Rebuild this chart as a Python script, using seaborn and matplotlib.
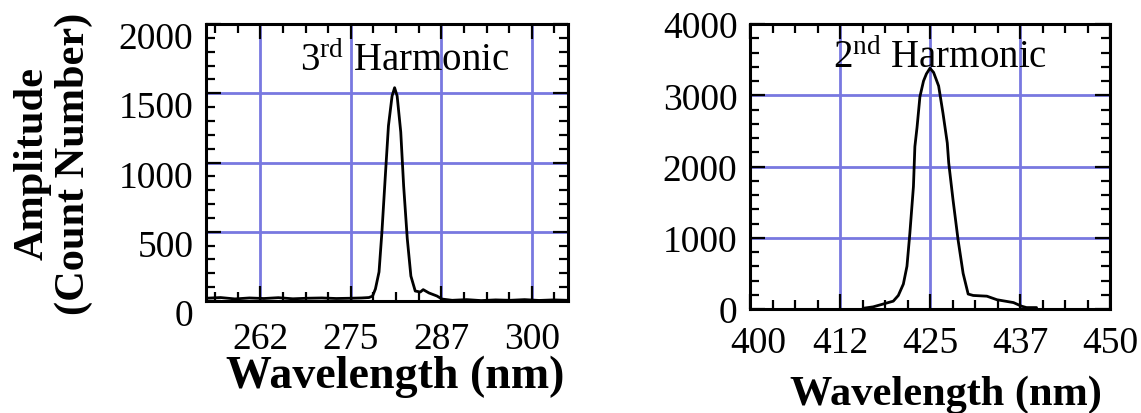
import numpy as np
import pandas as pd
import seaborn as sns
import matplotlib
matplotlib.use("Agg")
import matplotlib.pyplot as plt
from matplotlib.ticker import FixedLocator, FixedFormatter, MultipleLocator
from matplotlib.transforms import ScaledTranslation

# 3rd harmonic spectrum
wl_3rd = [255, 257, 259, 261, 263, 265, 267, 269, 271, 273, 275, 276.5, 277.5,
          278.0, 278.4, 278.9, 279.3, 279.8, 280.2, 280.7, 281.05, 281.4, 281.9,
          282.3, 282.8, 283.3, 283.9, 284.6, 285.0, 285.8, 286.9, 287.6, 289,
          291, 293, 295, 297, 299, 301, 303, 305]
amp_3rd = [20, 25, 15, 22, 18, 24, 16, 20, 22, 18, 20, 22, 25,
           35, 87, 210, 500, 930, 1265, 1480, 1540, 1480, 1220,
           830, 450, 180, 72, 65, 82, 58, 36, 14, 5,
           10, 3, 8, 5, 10, 4, 8, 5]

# 2nd harmonic spectrum
wl_2nd = [415.7, 417.1, 418.5, 419.9, 420.6, 421.3, 421.8, 422.2, 422.7, 422.9,
          423.2, 423.6, 424.1, 424.5, 425.0, 425.5, 426.2, 426.8, 427.4, 427.6,
          428.2, 428.9, 429.6, 430.3, 431.0, 432.9, 434.3, 436.6, 437.7, 438.4,
          439.8]
amp_2nd = [10, 30, 70, 110, 190, 350, 600, 1060, 1720, 2280,
           2550, 2980, 3200, 3300, 3380, 3320, 3130, 2750, 2330, 2050,
           1530, 970, 500, 210, 190, 180, 130, 90, 40, 20,
           20]

x_ticks_3rd = [262.5, 275, 287.5, 300]
x_labels_3rd = ["262", "275", "287", "300"]
x_ticks_2nd = [400, 412.5, 425, 437.5, 450]
x_labels_2nd = ["400", "412", "425", "437", "450"]

sns.set_theme(style="ticks")
plt.rcParams["font.family"] = ["Liberation Serif", "DejaVu Serif"]
plt.rcParams["mathtext.fontset"] = "custom"
plt.rcParams["mathtext.rm"] = "Liberation Serif"
for k in ("text.color", "axes.labelcolor", "xtick.color", "ytick.color"):
    plt.rcParams[k] = "black"

grid_col = "#7878e0"
fig = plt.figure(figsize=(11.41, 4.14), dpi=100)
ax1 = fig.add_axes([206 / 1141, 1 - 302 / 414, 362 / 1141, 277 / 414])
ax2 = fig.add_axes([750 / 1141, 1 - 310 / 414, 360 / 1141, 285 / 414])

df3 = pd.DataFrame({"wl": wl_3rd, "amp": amp_3rd})
df2 = pd.DataFrame({"wl": wl_2nd, "amp": amp_2nd})
sns.lineplot(data=df3, x="wl", y="amp", ax=ax1, color="black", lw=2)
sns.lineplot(data=df2, x="wl", y="amp", ax=ax2, color="black", lw=2)

ax1.set_xlim(255, 305)
ax1.set_ylim(0, 2000)
ax1.xaxis.set_major_locator(FixedLocator(x_ticks_3rd))
ax1.xaxis.set_major_formatter(FixedFormatter(x_labels_3rd))
ax1.xaxis.set_minor_locator(MultipleLocator(3.125))
ax1.yaxis.set_major_locator(MultipleLocator(500))
ax1.yaxis.set_minor_locator(MultipleLocator(100))

ax2.set_xlim(400, 450)
ax2.set_ylim(0, 4000)
ax2.xaxis.set_major_locator(FixedLocator(x_ticks_2nd))
ax2.xaxis.set_major_formatter(FixedFormatter(x_labels_2nd))
ax2.xaxis.set_minor_locator(MultipleLocator(3.125))
ax2.yaxis.set_major_locator(MultipleLocator(1000))
ax2.yaxis.set_minor_locator(MultipleLocator(200))

for ax in (ax1, ax2):
    ax.set_xlabel("")
    ax.set_ylabel("")
    ax.grid(True, which="major", color=grid_col, lw=2)
    ax.set_axisbelow(True)
    for s in ax.spines.values():
        s.set_linewidth(2.2)
        s.set_color("black")
    ax.tick_params(which="both", direction="in", top=True, right=True,
                   width=1.6, color="black", labelsize=27)
    ax.tick_params(which="major", length=11)
    ax.tick_params(which="minor", length=6.5)
    ax.tick_params(axis="y", pad=9)

ax1.tick_params(axis="x", pad=15)
ax2.tick_params(axis="x", pad=12)

# the y tick numbers of the left panel sit a little low in the original
down = ScaledTranslation(0, -0.11, fig.dpi_scale_trans)
for t in ax1.yaxis.get_major_ticks():
    t.label1.set_transform(t.label1.get_transform() + down)
# "400" is nudged right, clear of the "0" beside it
first = ax2.xaxis.get_major_ticks()[0]
first.label1.set_transform(first.label1.get_transform()
                           + ScaledTranslation(0.08, 0, fig.dpi_scale_trans))

ax1.text(0.26, 0.834, r"$\mathrm{3^{rd}}$ Harmonic", transform=ax1.transAxes,
         fontsize=28, va="baseline", ha="left")
ax2.text(0.23, 0.849, r"$\mathrm{2^{nd}}$ Harmonic", transform=ax2.transAxes,
         fontsize=28, va="baseline", ha="left")

fig.text(395 / 1141, 1 - 388 / 414, "Wavelength (nm)", fontsize=33,
         fontweight="bold", ha="center", va="baseline")
fig.text(946 / 1141, 1 - 405 / 414, "Wavelength (nm)", fontsize=30.5,
         fontweight="bold", ha="center", va="baseline")
fig.text(53 / 1141, 1 - 164 / 414, "Amplitude\n(Count Number)", fontsize=30.5,
         fontweight="bold", ha="center", va="center", rotation=90,
         linespacing=1.1)

fig.savefig("out.png", dpi=100)
